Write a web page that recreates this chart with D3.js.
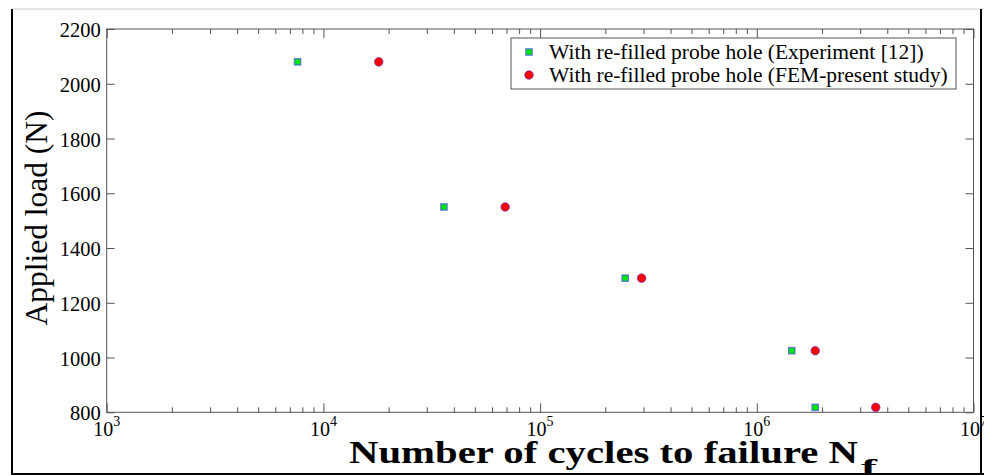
<!DOCTYPE html>
<html>
<head>
<meta charset="utf-8">
<script src="https://cdn.jsdelivr.net/npm/d3@7"></script>
<style>
  body { margin: 0; background: #fff; }
  text { font-family: "Liberation Serif", "Times New Roman", serif; fill: #000; }
</style>
</head>
<body>
<svg width="984" height="475"></svg>
<script>
// data
var seriesNames = ["With re-filled probe hole (Experiment [12])", "With re-filled probe hole (FEM-present study)"];
var expCycles = [7600, 36000, 247000, 1450000, 1860000];
var expLoad = [2080, 1550, 1290, 1025, 818];
var femCycles = [18000, 69000, 294000, 1860000, 3540000];
var femLoad = [2080, 1550, 1290, 1025, 818];
var yTicks = [800, 1000, 1200, 1400, 1600, 1800, 2000, 2200];
var xDecades = [3, 4, 5, 6, 7];

var svg = d3.select('svg');

// plot box (named to avoid window.top etc.)
var pLeft = 106.7, pRight = 973.5, pTop = 29, pBottom = 412.3;
var axisColor = '#555';

var x = d3.scaleLog().domain([1e3, 1e7]).range([pLeft, pRight]);
var y = d3.scaleLinear().domain([800, 2200]).range([pBottom, pTop]);

// figure frame
svg.append('line').attr('x1', 12).attr('x2', 984).attr('y1', 9).attr('y2', 9)
  .attr('stroke', '#ccc').attr('stroke-width', 1);
svg.append('line').attr('x1', 12).attr('x2', 12).attr('y1', 9).attr('y2', 475)
  .attr('stroke', '#000').attr('stroke-width', 2);
svg.append('line').attr('x1', 12).attr('x2', 984).attr('y1', 474).attr('y2', 474)
  .attr('stroke', '#000').attr('stroke-width', 2);
svg.append('line').attr('x1', 981).attr('x2', 981).attr('y1', 9).attr('y2', 475)
  .attr('stroke', '#000').attr('stroke-width', 2);

// major / minor tick values for the log axis
var majorX = xDecades.map(function(d) { return Math.pow(10, d); });
var minorX = [];
for (var d = 3; d < 7; d++) {
  for (var m = 2; m <= 9; m++) minorX.push(m * Math.pow(10, d));
}

function tickAxis(axis, sel) {
  sel.call(axis);
  sel.select('.domain').remove();
  sel.selectAll('line').attr('stroke', axisColor);
  sel.selectAll('text').remove();
}

// bottom ticks (pointing up, into the plot)
tickAxis(d3.axisBottom(x).tickValues(majorX).tickSizeInner(-9).tickSizeOuter(0),
  svg.append('g').attr('transform', 'translate(0,' + pBottom + ')'));
tickAxis(d3.axisBottom(x).tickValues(minorX).tickSizeInner(-5).tickSizeOuter(0),
  svg.append('g').attr('transform', 'translate(0,' + pBottom + ')'));
// top ticks (pointing down)
tickAxis(d3.axisTop(x).tickValues(majorX).tickSizeInner(-9).tickSizeOuter(0),
  svg.append('g').attr('transform', 'translate(0,' + pTop + ')'));
tickAxis(d3.axisTop(x).tickValues(minorX).tickSizeInner(-5).tickSizeOuter(0),
  svg.append('g').attr('transform', 'translate(0,' + pTop + ')'));
// left and right ticks
tickAxis(d3.axisLeft(y).tickValues(yTicks).tickSizeInner(-8).tickSizeOuter(0),
  svg.append('g').attr('transform', 'translate(' + pLeft + ',0)'));
tickAxis(d3.axisRight(y).tickValues(yTicks).tickSizeInner(-8).tickSizeOuter(0),
  svg.append('g').attr('transform', 'translate(' + pRight + ',0)'));

svg.append('rect')
  .attr('x', pLeft).attr('y', pTop)
  .attr('width', pRight - pLeft).attr('height', pBottom - pTop)
  .attr('fill', 'none').attr('stroke', axisColor).attr('stroke-width', 1);

// y tick labels
svg.selectAll('.ylab')
  .data(yTicks)
  .enter()
  .append('text')
    .attr('class', 'ylab')
    .attr('x', pLeft - 6)
    .attr('y', function(d) { return y(d) + 8; })
    .attr('text-anchor', 'end')
    .style('font-size', '20.5px')
    .text(function(d) { return d; });

// x tick labels 10^n
var xl = svg.selectAll('.xlab')
  .data(xDecades)
  .enter()
  .append('text')
    .attr('class', 'xlab')
    .attr('x', function(d) { return x(Math.pow(10, d)); })
    .attr('y', 436)
    .attr('text-anchor', 'middle')
    .style('font-size', '20px');
xl.append('tspan').text('10');
xl.append('tspan').attr('dy', -10).style('font-size', '14px').text(function(d) { return d; });

// axis titles (the x title is stretched wide in the original)
svg.append('text')
  .attr('x', 349).attr('y', 463)
  .attr('textLength', 509).attr('lengthAdjust', 'spacingAndGlyphs')
  .style('font-size', '31px').style('font-weight', 'bold')
  .text('Number of cycles to failure N');
svg.append('text')
  .attr('x', 861).attr('y', 474)
  .attr('textLength', 16).attr('lengthAdjust', 'spacingAndGlyphs')
  .style('font-size', '22px').style('font-weight', 'bold')
  .text('f');

svg.append('text')
  .attr('transform', 'translate(47,218) rotate(-90)')
  .attr('text-anchor', 'middle')
  .style('font-size', '31.5px')
  .text('Applied load (N)');

// markers
function drawSquare(sel, cx, cy) {
  sel.append('rect')
    .attr('x', cx - 3.2).attr('y', cy - 3.2)
    .attr('width', 6.4).attr('height', 6.4)
    .attr('fill', '#00e600')
    .attr('stroke', '#4d4dff').attr('stroke-width', 1.2).attr('stroke-opacity', 0.75);
}
function drawCircle(sel, cx, cy) {
  sel.append('circle')
    .attr('cx', cx).attr('cy', cy).attr('r', 4.3)
    .attr('fill', '#ff0000')
    .attr('stroke', '#6633cc').attr('stroke-width', 1).attr('stroke-opacity', 0.7);
}

var gExp = svg.append('g');
expCycles.forEach(function(c, i) { drawSquare(gExp, x(c), y(expLoad[i])); });
var gFem = svg.append('g');
femCycles.forEach(function(c, i) { drawCircle(gFem, x(c), y(femLoad[i])); });

// legend
var lg = svg.append('g');
lg.append('rect')
  .attr('x', 511).attr('y', 38).attr('width', 445).attr('height', 51)
  .attr('fill', '#fff').attr('stroke', axisColor).attr('stroke-width', 1);
drawSquare(lg, 529, 52);
drawCircle(lg, 529, 75);
lg.selectAll('.legtext')
  .data(seriesNames)
  .enter()
  .append('text')
    .attr('class', 'legtext')
    .attr('x', 549)
    .attr('y', function(d, i) { return 59 + i * 23; })
    .style('font-size', '21.5px')
    .text(function(d) { return d; });
</script>
</body>
</html>
